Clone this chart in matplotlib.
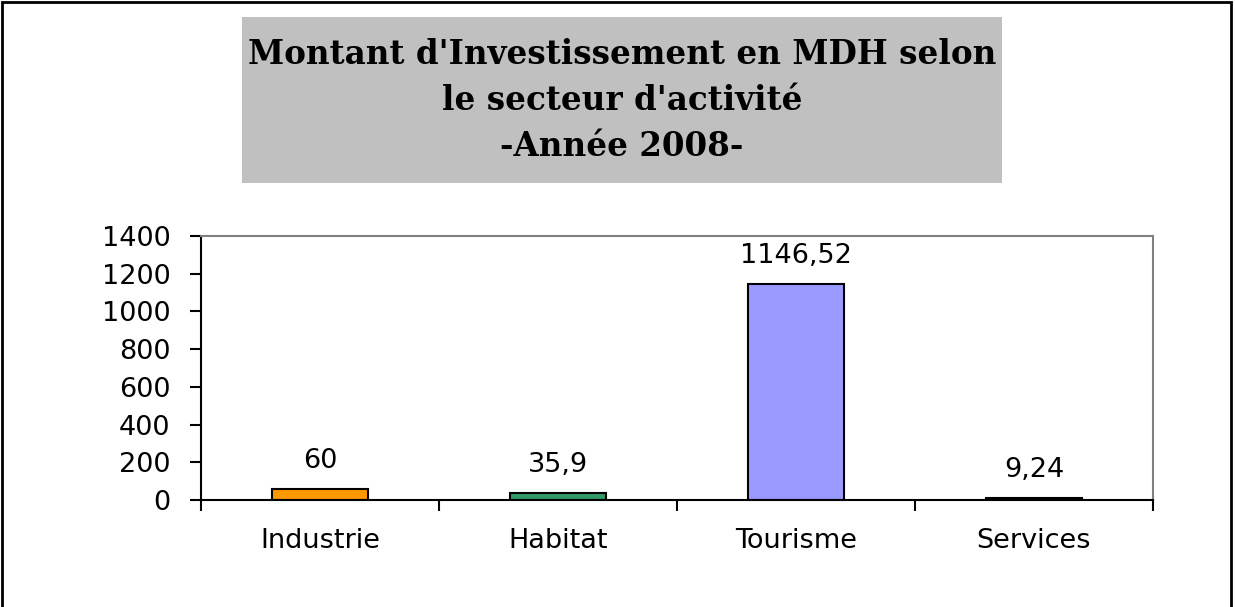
import matplotlib.pyplot as plt
from matplotlib.patches import Rectangle

secteurs = ['Industrie', 'Habitat', 'Tourisme', 'Services']
montants = [60, 35.9, 1146.52, 9.24]
etiquettes = ['60', '35,9', '1146,52', '9,24']
couleurs = ['#FF9900', '#339966', '#9999FF', '#222222']
yticks = [0, 200, 400, 600, 800, 1000, 1200, 1400]

fig = plt.figure(figsize=(12.35, 6.07), dpi=100)
fig.patch.set_facecolor('white')

# outer frame
fig.add_artist(Rectangle((0.002, -0.05), 0.995, 1.047, transform=fig.transFigure,
                         fill=False, edgecolor='black', linewidth=2))

# title box
fig.add_artist(Rectangle((242 / 1235, 1 - 183 / 607), 760 / 1235, 166 / 607,
                         transform=fig.transFigure, facecolor='#C0C0C0', edgecolor='none'))
titre = ["Montant d'Investissement en MDH selon", "le secteur d'activité", "-Année 2008-"]
for i, ligne in enumerate(titre):
    fig.text(622 / 1235, 1 - (55 + 46 * i) / 607, ligne, ha='center', va='center',
             fontsize=23.5, fontweight='bold', family='DejaVu Serif')

ax = fig.add_axes([201 / 1235, 1 - 500 / 607, 952 / 1235, 264 / 607])
x = list(range(len(secteurs)))
bars = ax.bar(x, montants, width=0.4, color=couleurs, edgecolor='black', linewidth=1.5)
for xi, v, lab in zip(x, montants, etiquettes):
    ax.annotate(lab, (xi, v), xytext=(0, 20), textcoords='offset points',
                ha='center', va='center', fontsize=19.5)

ax.set_xlim(-0.5, 3.5)
ax.set_ylim(0, 1400)
ax.set_yticks(yticks)
ax.set_yticklabels([str(t) for t in yticks], fontsize=19.5)
ax.set_xticks([-0.5, 0.5, 1.5, 2.5, 3.5])
ax.set_xticklabels([])
ax.set_xticks(x, minor=True)
ax.set_xticklabels(secteurs, minor=True, fontsize=19.5)
ax.tick_params(axis='x', which='minor', length=0, pad=20)
ax.tick_params(axis='x', which='major', length=8, width=1.5, direction='out')
ax.tick_params(axis='y', length=8, width=1.5, direction='out', pad=14)
ax.spines['left'].set_linewidth(1.5)
ax.spines['bottom'].set_linewidth(1.5)
ax.spines['top'].set_color('#808080')
ax.spines['right'].set_color('#808080')
ax.spines['top'].set_linewidth(1.5)
ax.spines['right'].set_linewidth(1.5)

plt.savefig('out.png', dpi=100)
